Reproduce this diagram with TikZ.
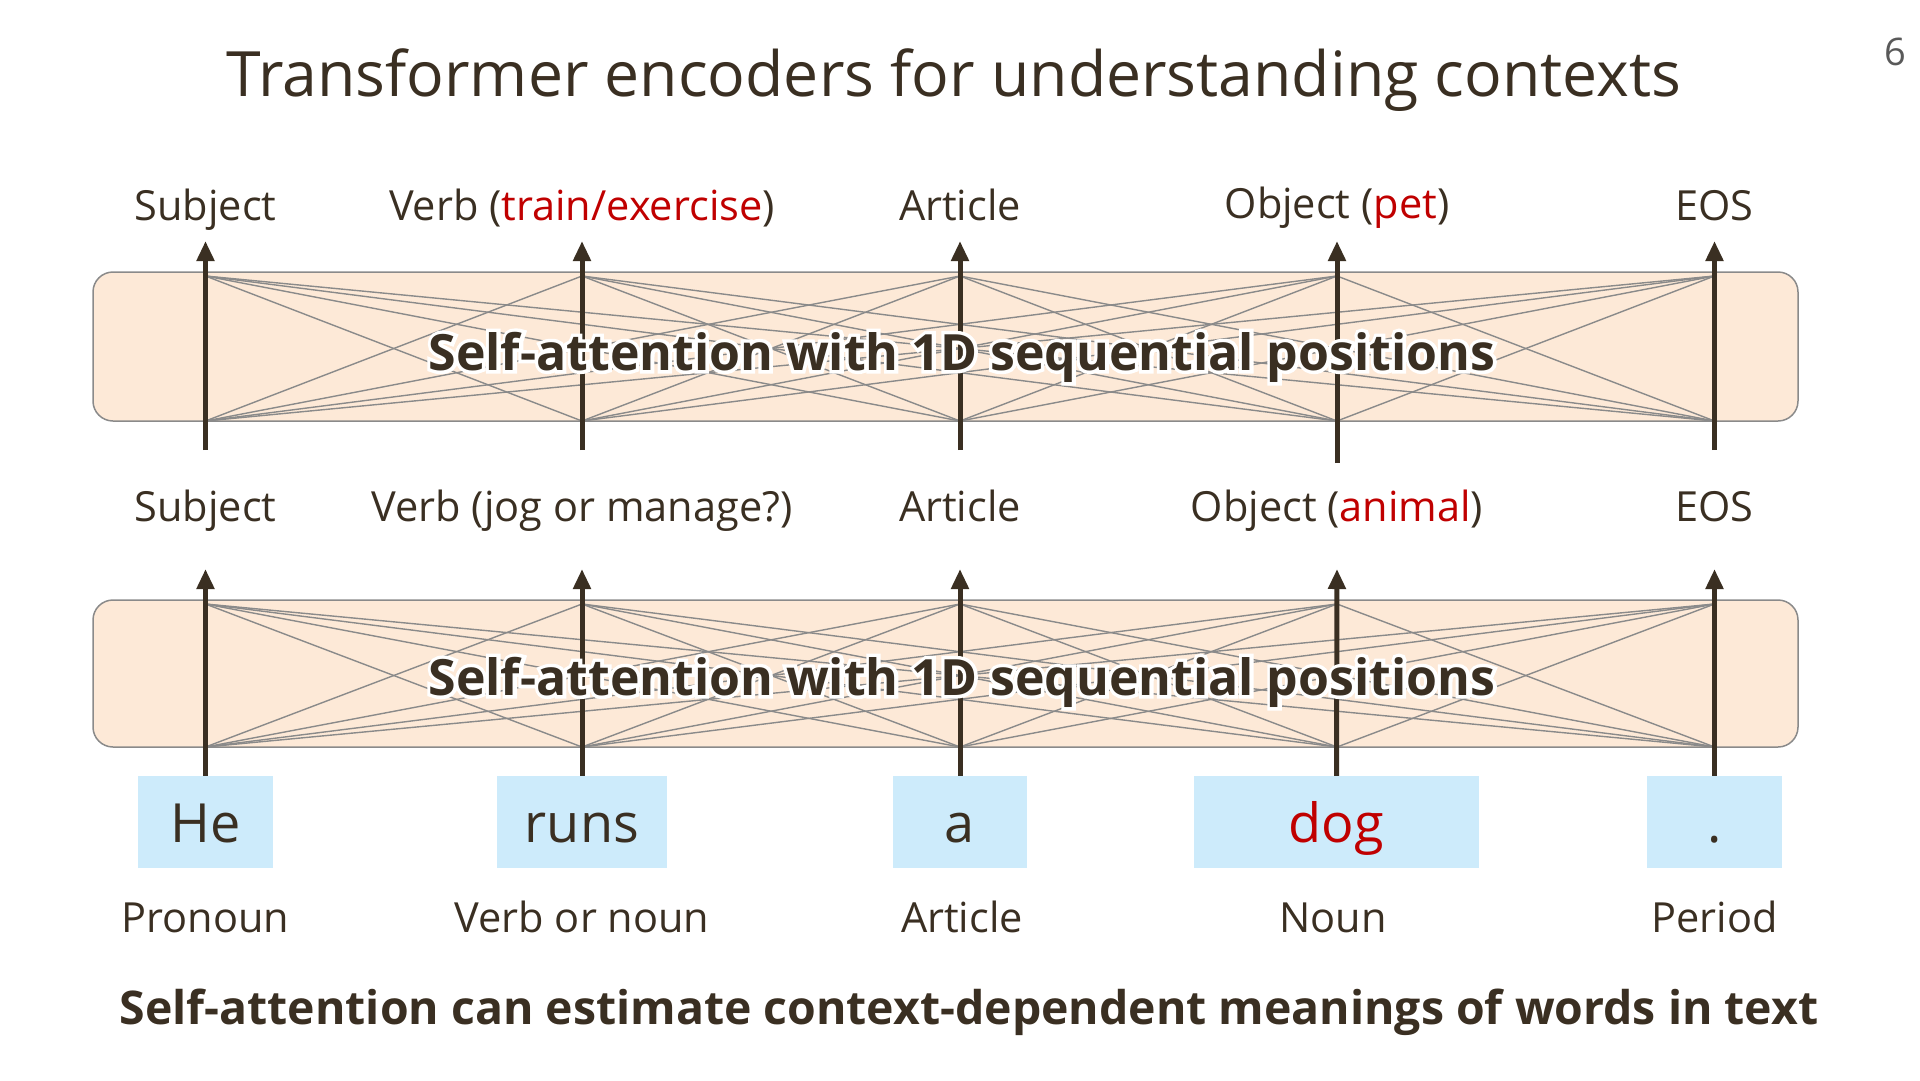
\documentclass[tikz,border=0pt]{standalone}
\usepackage{fontspec}
\setmainfont{Open Sans}
\usetikzlibrary{arrows.meta}

\definecolor{ink}{HTML}{3A2F22}
\definecolor{wordred}{HTML}{C00000}
\definecolor{peach}{HTML}{FDE9D7}
\definecolor{skyblue}{HTML}{CDEBFB}
\definecolor{wire}{HTML}{8A8A8A}
\definecolor{pagegray}{HTML}{595959}

% white outline behind the text, then the text itself
\newcommand\glowtext[1]{\leavevmode\rlap{\special{pdf:literal direct 1 Tr 7 w 1 1 1 RG}#1\special{pdf:literal direct 0 Tr}}#1}

\tikzset{
  lbl/.style={text=ink, anchor=base, inner sep=0pt, font=\fontsize{41.5}{44}\selectfont},
  wordbox/.style={fill=skyblue, minimum height=92pt, inner sep=0pt, text height=52pt, text depth=12pt, text=ink, font=\fontsize{54}{58}\selectfont},
  layer/.style={draw=wire, line width=1.5pt, fill=peach, rounded corners=20pt},
  flow/.style={draw=ink, line width=5pt, -{Triangle[length=20pt,width=17pt]}},
  attn/.style={draw=wire, line width=1.4pt},
  layertext/.style={inner sep=0pt, text=ink, font=\fontsize{50}{54}\selectfont\bfseries},
}

\begin{document}
\begin{tikzpicture}[x=1pt,y=-1pt]
  \useasboundingbox (0,0) rectangle (1920,1080);

  % heading and page number
  \node[text=ink, anchor=base, font=\fontsize{62.5}{66}\selectfont] (title) at (954,96) {Transformer encoders for understanding contexts};
  \node[text=pagegray, anchor=base, font=\fontsize{38}{40}\selectfont] (page) at (1895,65) {6};

  % words and their parts of speech
  \node[wordbox, minimum width=135pt] (w1) at (205.5,822) {He};
  \node[wordbox, minimum width=170pt] (w2) at (582,822) {runs};
  \node[wordbox, minimum width=134pt] (w3) at (960,822) {a};
  \node[wordbox, minimum width=285pt, text=wordred] (w4) at (1336.5,822) {dog};
  \node[wordbox, minimum width=135pt] (w5) at (1714.5,822) {.};

  \node[lbl] (p1) at (205.5,932) {Pronoun};
  \node[lbl] (p2) at (582,932) {Verb or noun};
  \node[lbl] (p3) at (962,932) {Article};
  \node[lbl] (p4) at (1333,932) {Noun};
  \node[lbl] (p5) at (1714.5,932) {Period};

  % middle labels
  \node[lbl] (m1) at (205.5,521.5) {Subject};
  \node[lbl] (m2) at (582,521.5) {Verb (jog or manage?)};
  \node[lbl] (m3) at (960,521.5) {Article};
  \node[lbl] (m4) at (1337,521.5) {Object (\textcolor{wordred}{animal})};
  \node[lbl] (m5) at (1714.5,521.5) {EOS};

  % top labels
  \node[lbl] (t1) at (205.5,220.5) {Subject};
  \node[lbl] (t2) at (582,220.5) {Verb (\textcolor{wordred}{train/exercise})};
  \node[lbl] (t3) at (960,220.5) {Article};
  \node[lbl] (t4) at (1337,218.5) {Object (\textcolor{wordred}{pet})};
  \node[lbl] (t5) at (1714.5,220.5) {EOS};

  % the two layers
  \draw[layer] (93,600) rectangle (1798,747);
  \draw[layer] (93,272) rectangle (1798,421);

  \foreach \i/\x/\s in {1/205.5/450,2/582/450,3/960/450,4/1337/463,5/1714.5/450} {
    \coordinate (lt\i) at (\x,604);
    \coordinate (lb\i) at (\x,747);
    \coordinate (ltip\i) at (\x,569);
    \coordinate (ut\i) at (\x,276);
    \coordinate (ub\i) at (\x,421);
    \coordinate (ustart\i) at (\x,\s);
    \coordinate (utip\i) at (\x,241);
  }

  % all-to-all attention wires
  \foreach \i in {1,...,5}
    \foreach \j in {1,...,5} {
      \ifnum\i=\j\else
        \draw[attn] (lt\i) -- (lb\j);
        \draw[attn] (ut\i) -- (ub\j);
      \fi
    }

  % arrows
  \foreach \i in {1,...,5} {
    \draw[flow] (w\i.north) -- (ltip\i);
    \draw[flow] (ustart\i) -- (utip\i);
  }

  % layer captions
  \node[layertext] (ucap) at (962,357) {\glowtext{Self-attention with 1D sequential positions}};
  \node[layertext] (lcap) at (962,682) {\glowtext{Self-attention with 1D sequential positions}};

  % summary
  \node[text=ink, anchor=base, font=\fontsize{46.4}{50}\selectfont\bfseries] (summary) at (969,1024) {Self-attention can estimate context-dependent meanings of words in text};
\end{tikzpicture}
\end{document}
